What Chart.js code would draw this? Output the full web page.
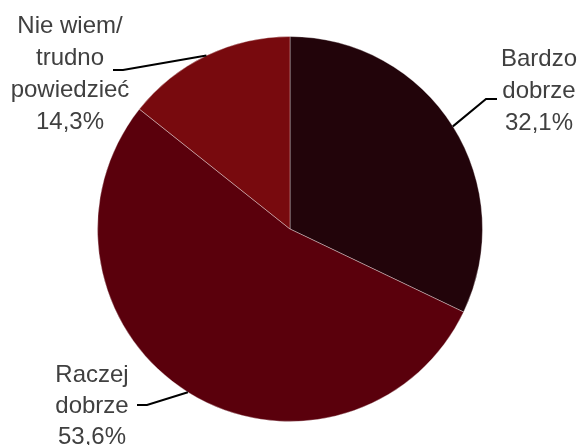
<!DOCTYPE html>
<html>
<head>
<meta charset="utf-8">
<script src="https://cdn.jsdelivr.net/npm/chart.js@4"></script>
<style>
  body { margin: 0; background: #fff; }
  canvas { display: block; }
</style>
</head>
<body>
<canvas id="myChart" width="577" height="445"></canvas>
<script>
const categories = ['Bardzo dobrze', 'Raczej dobrze', 'Nie wiem/ trudno powiedzieć'];
const values = [32.1, 53.6, 14.3];
const labelLines = [
  ['Bardzo', 'dobrze', '32,1%'],
  ['Raczej', 'dobrze', '53,6%'],
  ['Nie wiem/', 'trudno', 'powiedzieć', '14,3%']
];
const sliceColors = ['#22040a', '#5a000c', '#780a0e'];

// where each label sits: text centre x, first baseline, elbow of leader line
const labelPlaces = [
  { x: 539, y: 66, gap: 32, elbow: [486, 99], tail: [497, 99] },
  { x: 92, y: 382, gap: 31, elbow: [147, 405], tail: [137, 405] },
  { x: 70, y: 33, gap: 32, elbow: [123, 70], tail: [113, 70] }
];

const labelPlugin = {
  id: 'pieLabels',
  afterDraw(chart) {
    const ctx = chart.ctx;
    const arcs = chart.getDatasetMeta(0).data;
    ctx.save();
    ctx.font = '24px "Liberation Sans", Arial, sans-serif';
    ctx.fillStyle = '#404040';
    ctx.textAlign = 'center';
    ctx.textBaseline = 'alphabetic';
    for (let i = 0; i < arcs.length; i++) {
      const a = arcs[i];
      const mid = (a.startAngle + a.endAngle) / 2;
      const ex = a.x + Math.cos(mid) * a.outerRadius;
      const ey = a.y + Math.sin(mid) * a.outerRadius;
      const p = labelPlaces[i];
      ctx.strokeStyle = '#000';
      ctx.lineWidth = 2;
      ctx.beginPath();
      ctx.moveTo(ex, ey);
      ctx.lineTo(p.elbow[0], p.elbow[1]);
      ctx.lineTo(p.tail[0], p.tail[1]);
      ctx.stroke();
      for (let j = 0; j < labelLines[i].length; j++) {
        ctx.fillText(labelLines[i][j], p.x, p.y + j * p.gap);
      }
    }
    ctx.restore();
  }
};

const ctx = document.getElementById('myChart').getContext('2d');
new Chart(ctx, {
  type: 'pie',
  data: {
    labels: categories,
    datasets: [{
      data: values,
      backgroundColor: sliceColors,
      borderColor: 'rgba(255,255,255,0.35)',
      borderWidth: 1
    }]
  },
  options: {
    responsive: false,
    animation: false,
    layout: { padding: { top: 36, bottom: 23, left: 3, right: 0 } },
    plugins: {
      legend: { display: false },
      tooltip: { enabled: false }
    }
  },
  plugins: [labelPlugin]
});
</script>
</body>
</html>
